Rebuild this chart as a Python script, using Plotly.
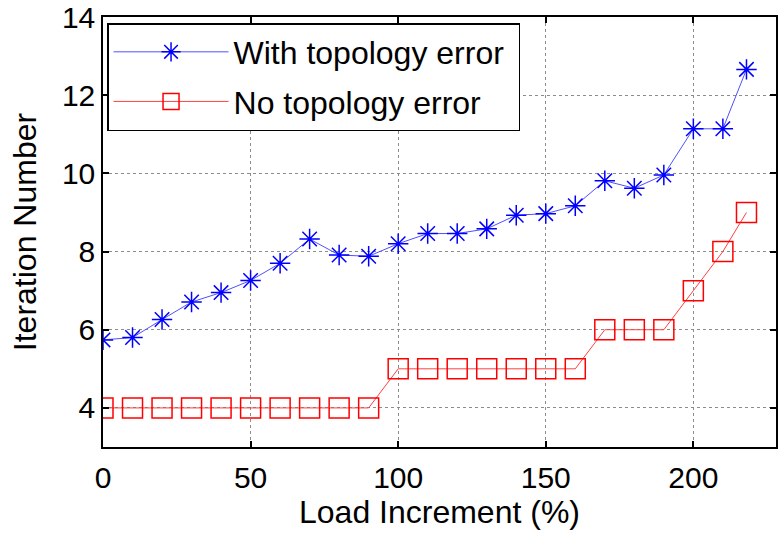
import plotly.graph_objects as go

load_increment = [0, 10, 20, 30, 40, 50, 60, 70, 80, 90, 100, 110, 120, 130, 140, 150,
                  160, 170, 180, 190, 200, 210, 218]
with_topology_error = [5.74, 5.80, 6.26, 6.71, 6.95, 7.26, 7.70, 8.32, 7.91, 7.88, 8.20,
                       8.46, 8.46, 8.58, 8.93, 8.97, 9.17, 9.81, 9.62, 9.96, 11.14, 11.14, 12.66]
no_topology_error = [4, 4, 4, 4, 4, 4, 4, 4, 4, 4, 5, 5, 5, 5, 5, 5, 5, 6, 6, 6, 7, 8, 9]

x_ticks = [0, 50, 100, 150, 200]
y_ticks = [4, 6, 8, 10, 12, 14]

FONT = "Liberation Sans, Arial, sans-serif"

fig = go.Figure()
fig.add_trace(go.Scatter(
    x=load_increment, y=with_topology_error, mode="lines+markers",
    name="With topology error\u00a0", legendgroup="a",
    line=dict(color="#5050ff", width=1),
    marker=dict(symbol="asterisk-open", size=17, color="blue",
                line=dict(color="blue", width=1.5)),
))
fig.add_trace(go.Scatter(
    x=load_increment, y=no_topology_error, mode="lines+markers",
    name="No topology error", legendgroup="b",
    line=dict(color="#ff4040", width=1),
    marker=dict(symbol="square-open", size=20, color="red",
                line=dict(color="red", width=1.5)),
))

axis_common = dict(
    showline=True, linecolor="black", linewidth=1.5, mirror="ticks",
    ticks="inside", ticklen=6, tickcolor="black", tickwidth=1.5,
    showgrid=True, gridcolor="#8c8c8c", griddash="dot", gridwidth=1,
    zeroline=False, automargin=False,
)

fig.update_layout(
    width=779, height=538,
    margin=dict(l=103, r=3, t=17, b=91),
    paper_bgcolor="white", plot_bgcolor="white",
    font=dict(family=FONT, color="black"),
    showlegend=True,
    legend=dict(
        x=0.006, y=0.986, xanchor="left", yanchor="top",
        bgcolor="white", bordercolor="black", borderwidth=1.5,
        font=dict(size=32, family=FONT, color="black"),
        itemwidth=115, tracegroupgap=5,
    ),
    xaxis=dict(range=[0, 228], tickvals=x_ticks, ticktext=[str(v) for v in x_ticks],
               tickfont=dict(size=30), ticklabelstandoff=3,
               title=dict(text="Load Increment (%)", font=dict(size=32), standoff=8),
               **axis_common),
    yaxis=dict(range=[3, 14], tickvals=y_ticks, ticktext=[str(v) for v in y_ticks],
               tickfont=dict(size=30), ticklabelstandoff=0,
               title=dict(text="Iteration Number", font=dict(size=32), standoff=16),
               **axis_common),
)

fig.write_html(
    "out.html",
    config={"displayModeBar": False},
    post_script="document.body.style.margin='0';document.body.style.overflow='hidden';",
)
